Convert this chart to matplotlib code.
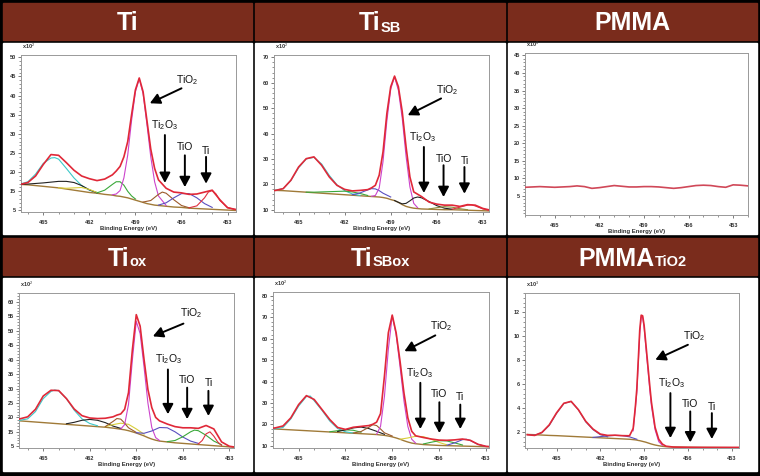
import matplotlib
matplotlib.use("Agg")
import matplotlib.pyplot as plt
from matplotlib.patches import Rectangle
from matplotlib.ticker import MultipleLocator, AutoMinorLocator

plt.rcParams["font.family"] = ["Liberation Sans", "DejaVu Sans"]
plt.rcParams["mathtext.fontset"] = "custom"
plt.rcParams["mathtext.rm"] = "Liberation Sans"
plt.rcParams["mathtext.it"] = "Liberation Sans:italic"
plt.rcParams["mathtext.bf"] = "Liberation Sans:bold"

W, H = 760, 476

# ---------------- data (counts) ----------------
# binding energy grid shared by the Ti panels (eV)
be = [467, 466.5, 466, 465.5, 465, 464.5, 464, 463.5, 463, 462.5, 462, 461.5,
      461, 460.5, 460.25, 460, 459.75, 459.5, 459.25, 459, 458.75, 458.5,
      458.25, 458, 457.75, 457.5, 457, 456.5, 456, 455.5, 455, 454.5, 454,
      453.5, 453, 452.5]

# Ti
ti_env = [16.7, 16.8, 17.3, 19.0, 22.0, 24.6, 24.4, 22.5, 20.5, 19.0,
          18.3, 17.8, 18.2, 19.3, 20.3, 21.5, 24.0, 28.0, 35.0, 41.5,
          44.6, 41.0, 33.5, 26.0, 21.0, 18.0, 15.8, 14.8, 14.6, 14.2,
          14.3, 14.8, 15.3, 12.8, 10.7, 10.3]
ti_bg = [16.8, 16.8, 16.7, 16.5, 16.3, 16.1, 15.9, 15.6, 15.3, 15.0,
         14.7, 14.5, 14.2, 14.0, 13.8, 13.7, 13.5, 13.3, 13.0, 12.7,
         12.4, 12.1, 11.8, 11.6, 11.4, 11.3, 11.1, 10.9, 10.8, 10.6,
         10.5, 10.4, 10.3, 10.2, 10.1, 10.0]
ti_comps = [
    ([467, 466.5, 466, 465.5, 465, 464.5, 464.25, 464, 463.5, 463, 462.5, 462, 461.5],
     [16.8, 16.9, 17.5, 19.5, 22.3, 23.7, 23.8, 23.4, 21.0, 18.5, 16.5, 15.3, 14.7]),
    ([467, 466, 465, 464.5, 464, 463.5, 463, 462.5, 462, 461.5],
     [16.8, 16.9, 17.2, 17.4, 17.6, 17.6, 17.3, 16.5, 15.4, 14.6]),
    ([464, 463.5, 463, 462.5, 462, 461.5],
     [15.9, 15.8, 15.9, 16.0, 15.5, 14.7]),
    ([461.5, 461, 460.5, 460.25, 460, 459.75, 459.5, 459.25, 459],
     [14.6, 15.3, 16.8, 17.5, 17.5, 16.6, 15.0, 13.8, 13.0]),
    ([460.5, 460.25, 460, 459.75, 459.5, 459.25, 459, 458.75, 458.5, 458.25, 458, 457.75, 457.5, 457],
     [14.1, 14.3, 15.2, 18.5, 24.5, 33.5, 41.0, 44.4, 40.5, 32.5, 24.0, 17.5, 13.8, 11.3]),
    ([458.5, 458, 457.75, 457.5, 457.25, 457, 456.5, 456, 455.5],
     [12.2, 12.6, 13.4, 14.2, 14.8, 14.5, 12.8, 11.3, 10.7]),
    ([457.5, 457, 456.5, 456, 455.5, 455, 454.5, 454],
     [11.4, 12.0, 13.3, 14.4, 14.4, 13.3, 11.8, 10.8]),
    ([455.5, 455, 454.5, 454.25, 454, 453.75, 453.5, 453, 452.5],
     [10.7, 11.2, 13.3, 14.8, 15.2, 14.3, 12.6, 10.8, 10.2]),
]

# Ti_SB
tisb_env = [17.6, 17.6, 18.3, 21.6, 26.8, 30.1, 30.8, 27.5, 22.9, 19.6,
            18.0, 17.4, 17.6, 17.9, 18.6, 19.6, 23.6, 32.8, 47.9, 58.4,
            62.6, 58.4, 48.6, 34.7, 22.9, 17.0, 15.2, 13.0, 12.2, 11.8,
            11.8, 11.3, 12.0, 11.8, 10.5, 9.8]
tisb_bg = [17.6, 17.6, 17.5, 17.3, 17.1, 16.9, 16.7, 16.5, 16.3, 16.1,
           15.9, 15.7, 15.5, 15.3, 15.2, 15.1, 15.0, 14.8, 14.5, 14.0,
           13.6, 12.9, 12.0, 11.3, 10.9, 10.6, 10.3, 10.2, 10.1, 10.0,
           10.0, 9.9, 9.8, 9.7, 9.6, 9.5]
tisb_comps = [
    ([467, 466.5, 466, 465.5, 465, 464.5, 464, 463.5, 463, 462.5, 462, 461.5, 461],
     [17.6, 17.7, 18.3, 21.5, 26.5, 30.0, 30.6, 28.0, 23.5, 19.8, 17.5, 16.2, 15.6]),
    ([464.5, 464, 463, 462.5, 462, 461.5, 461, 460.5],
     [16.9, 16.9, 17.1, 17.2, 17.3, 17.0, 16.4, 15.6]),
    ([461.5, 461, 460.5, 460.25, 460, 459.75, 459.5, 459],
     [15.9, 16.6, 17.8, 18.3, 18.2, 17.5, 16.5, 15.0]),
    ([460.25, 460, 459.75, 459.5, 459.25, 459, 458.75, 458.5, 458.25, 458, 457.75, 457.5, 457.25],
     [15.3, 15.6, 18.5, 29.0, 45.0, 57.5, 62.3, 57.0, 46.0, 31.0, 19.0, 12.5, 10.8]),
    ([458.75, 458.5, 458.25, 458, 457.75, 457.5, 457.25, 457, 456.5, 456, 455.5, 455],
     [13.6, 12.9, 12.3, 12.5, 13.5, 14.6, 15.0, 14.7, 13.2, 11.6, 10.6, 10.2]),
    ([456.5, 456, 455.5, 455, 454.5, 454],
     [10.3, 10.8, 11.2, 11.0, 10.4, 10.0]),
    ([455, 454.5, 454, 453.75, 453.5, 453, 452.5],
     [10.2, 11.0, 11.8, 11.9, 11.5, 10.3, 9.7]),
]

# PMMA
pmma_be = [467, 466.5, 466, 465.5, 465, 464.5, 464, 463.5, 463, 462.5, 462,
           461.5, 461, 460.5, 460, 459.5, 459, 458.5, 458, 457.5, 457, 456.5,
           456, 455.5, 455, 454.5, 454, 453.5, 453, 452.5, 452]
pmma_env = [7.4, 7.5, 7.6, 7.5, 7.4, 7.5, 7.6, 7.8, 7.6, 7.1, 7.3,
            7.6, 7.9, 7.7, 7.5, 7.5, 7.6, 7.6, 7.5, 7.3, 7.1, 7.3,
            7.6, 7.9, 8.0, 7.9, 7.6, 7.4, 8.1, 8.0, 7.8]

# Ti_ox
tiox_env = [18.7, 19.5, 20.2, 22.8, 27.4, 29.4, 29.3, 26.5, 22.9, 20.6,
            19.8, 19.6, 19.7, 20.2, 20.8, 21.2, 22.8, 28.6, 43.5, 55.6,
            51.6, 40.1, 29.7, 23.4, 20.0, 18.8, 17.7, 16.8, 16.4, 16.4,
            16.2, 17.2, 16.0, 11.5, 10.0, 9.6]
tiox_bg = [18.9, 18.8, 18.6, 18.4, 18.2, 18.0, 17.8, 17.6, 17.4, 17.2,
           17.0, 16.8, 16.6, 16.3, 16.1, 15.9, 15.7, 15.4, 15.0, 14.6,
           14.1, 13.6, 13.0, 12.5, 12.1, 11.8, 11.5, 11.2, 11.0, 10.8,
           10.6, 10.4, 10.2, 10.0, 9.8, 9.6]
tiox_comps = [
    ([467, 466.5, 466, 465.5, 465, 464.5, 464.25, 464, 463.5, 463, 462.5, 462, 461.5],
     [18.9, 19.0, 19.5, 22.0, 26.5, 29.0, 29.5, 29.2, 26.5, 22.5, 19.5, 17.9, 17.1]),
    ([463.5, 463, 462.5, 462, 461.5, 461, 460.5, 460],
     [17.8, 18.3, 19.0, 19.3, 19.0, 18.2, 17.0, 16.2]),
    ([461, 460.5, 460, 459.5, 459, 458.5],
     [16.8, 17.5, 18.0, 17.6, 16.0, 14.2]),
    ([461, 460.5, 460.25, 460, 459.75, 459.5, 459],
     [16.8, 18.6, 19.6, 19.4, 18.0, 16.4, 14.8]),
    ([460, 459.75, 459.5, 459.25, 459, 458.75, 458.5, 458.25, 458, 457.75, 457.5],
     [16.0, 17.5, 24.5, 40.0, 53.3, 49.0, 37.5, 25.0, 16.5, 13.0, 12.0]),
    ([459, 458.5, 458, 457.5, 457, 456.5, 456, 455.5, 455],
     [14.7, 14.5, 15.3, 16.5, 16.4, 15.0, 13.2, 11.8, 11.0]),
    ([457, 456.5, 456, 455.5, 455.25, 455, 454.5, 454, 453.5],
     [11.6, 12.0, 13.3, 15.0, 15.6, 15.4, 13.8, 11.8, 10.5]),
    ([455, 454.75, 454.5, 454.25, 454, 453.75, 453.5],
     [10.8, 12.0, 14.3, 15.0, 13.5, 11.5, 10.3]),
]

# Ti_SBox
tisbox_env = [18.0, 18.3, 19.2, 23.0, 29.2, 33.4, 31.6, 26.9, 22.2, 18.5,
              17.6, 18.6, 19.0, 19.4, 20.0, 21.0, 25.0, 42.5, 62.8, 71.1,
              62.8, 49.5, 34.7, 23.0, 16.7, 14.6, 13.8, 13.1, 12.6, 12.5,
              12.7, 13.1, 12.5, 10.6, 9.7, 9.4]
tisbox_bg = [17.9, 17.8, 17.6, 17.4, 17.2, 17.0, 16.8, 16.6, 16.4, 16.2,
             16.0, 15.8, 15.6, 15.4, 15.3, 15.2, 15.0, 14.8, 14.5, 14.1,
             13.6, 13.0, 12.3, 11.7, 11.2, 10.9, 10.5, 10.3, 10.1, 10.0,
             9.9, 9.8, 9.7, 9.6, 9.5, 9.4]
tisbox_comps = [
    ([467, 466.5, 466, 465.5, 465, 464.5, 464.25, 464, 463.5, 463, 462.5, 462, 461.5],
     [17.9, 17.9, 18.5, 22.5, 28.5, 33.0, 33.2, 31.0, 26.5, 21.5, 18.0, 16.5, 15.9]),
    ([463, 462.5, 462, 461.5, 461],
     [16.5, 17.0, 17.4, 17.2, 16.3]),
    ([462.5, 462, 461.5, 461, 460.5, 460, 459.5],
     [16.6, 17.4, 18.3, 18.7, 18.0, 16.7, 15.3]),
    ([461.5, 461, 460.5, 460.25, 460, 459.75, 459.5, 459],
     [15.9, 16.6, 18.6, 19.8, 19.4, 17.8, 16.0, 14.5]),
    ([460, 459.75, 459.5, 459.25, 459, 458.75, 458.5, 458.25, 458, 457.75, 457.5],
     [15.4, 19.0, 33.0, 55.0, 70.8, 62.0, 47.0, 31.0, 19.0, 13.0, 11.2]),
    ([458.5, 458, 457.5, 457, 456.5, 456, 455.5],
     [13.0, 13.6, 14.4, 14.2, 13.0, 11.5, 10.4]),
    ([457, 456.5, 456, 455.5, 455, 454.5],
     [10.8, 11.6, 12.3, 12.2, 11.3, 10.3]),
    ([455.5, 455, 454.5, 454.25, 454, 453.5, 453],
     [10.2, 11.3, 12.8, 13.0, 12.4, 10.6, 9.6]),
]

# PMMA_TiO2 (finer grid around the narrow TiO2 peak)
pmt_be = [467, 466.5, 466, 465.5, 465, 464.5, 464, 463.5, 463, 462.5,
          462, 461.5, 461, 460.5, 460, 459.75, 459.6, 459.5, 459.4, 459.3,
          459.2, 459.1, 459.0, 458.9, 458.8, 458.7, 458.6, 458.5, 458.25, 458,
          457.75, 457.5, 457, 456, 455, 454, 453, 452.5]
pmt_env = [1.78, 1.72, 1.97, 2.6, 3.6, 4.4, 4.56, 3.86, 2.9, 2.25,
           1.83, 1.72, 1.74, 1.70, 1.69, 2.3, 4.1, 5.6, 8.0, 10.5,
           11.75, 11.7, 10.9, 9.6, 8.3, 7.0, 5.7, 4.5, 2.4, 1.4,
           1.0, 0.82, 0.75, 0.73, 0.72, 0.72, 0.72, 0.72]
pmt_bg = [1.8, 1.78, 1.75, 1.72, 1.7, 1.67, 1.64, 1.61, 1.58, 1.55,
          1.52, 1.49, 1.46, 1.43, 1.4, 1.37, 1.35, 1.33, 1.3, 1.28,
          1.25, 1.22, 1.19, 1.16, 1.12, 1.08, 1.04, 1.0, 0.92, 0.86,
          0.81, 0.78, 0.75, 0.73, 0.72, 0.71, 0.7, 0.7]
pmt_comps = [
    ([467, 466.5, 466, 465.5, 465, 464.5, 464, 463.5, 463, 462.5, 462, 461.5],
     [1.78, 1.74, 1.95, 2.55, 3.55, 4.38, 4.55, 3.85, 2.85, 2.2, 1.78, 1.6]),
    ([462.5, 462, 461.5, 461, 460.5, 460, 459.5],
     [1.55, 1.62, 1.68, 1.72, 1.70, 1.6, 1.4]),
    ([459.75, 459.5, 459.3, 459.2, 459.1, 459.0, 458.8, 458.6, 458.5, 458.25, 458, 457.75],
     [2.1, 5.3, 10.2, 11.6, 11.55, 10.7, 8.0, 5.4, 4.2, 2.2, 1.2, 0.9]),
]

# ---------------- styles ----------------
BROWN = "#7a2c1c"
ENV = "#e02838"
BGC = "#a07a38"
CYAN, BLACK, YELLOW, GREEN = "#3cc8c8", "#222222", "#d9cf3a", "#3aa83a"
MAGENTA, DBROWN, BLUE, RED = "#cc44cc", "#9c5a2c", "#5a4fc0", "#e03040"
OLIVE, SLATE = "#8c8c3a", "#6a6aa8"

fig = plt.figure(figsize=(W / 100, H / 100), dpi=100, facecolor="black")
renderer = fig.canvas.get_renderer()


def px_rect(x0, y0, x1, y1):
    return [x0 / W, 1 - y1 / H, (x1 - x0) / W, (y1 - y0) / H]


def box(x0, y0, x1, y1, color):
    fig.add_artist(Rectangle((x0 / W, 1 - y1 / H), (x1 - x0) / W, (y1 - y0) / H,
                             transform=fig.transFigure, color=color, zorder=0))


def header_title(cx, base, main, sub):
    t1 = fig.text(0, 1 - base / H, main, color="white", fontsize=18,
                  fontweight="bold", va="baseline", ha="left")
    w1 = t1.get_window_extent(renderer).width
    w2 = 0
    t2 = None
    if sub:
        t2 = fig.text(0, 1 - (base + 1) / H, sub, color="white", fontsize=10.5,
                      fontweight="bold", va="baseline", ha="left")
        w2 = t2.get_window_extent(renderer).width
    x0 = cx - (w1 + w2) / 2
    t1.set_x(x0 / W)
    if t2 is not None:
        t2.set_x((x0 + w1) / W)


def draw_panel(rect, xs, env, bg, comps, colors, xlim, ylim, yticks, ylabels,
               scale, notes, env_color=ENV):
    ax = fig.add_axes(px_rect(*rect))
    ax.set_facecolor("white")
    if bg is not None:
        ax.plot(xs, bg, color=BGC, lw=1.0, zorder=2)
    for (cx, cy), c in zip(comps, colors):
        ax.plot(cx, cy, color=c, lw=0.8, zorder=3)
    ax.plot(xs, env, color=env_color, lw=1.2, zorder=4)
    ax.set_xlim(*xlim)
    ax.set_ylim(*ylim)
    ax.xaxis.set_major_locator(MultipleLocator(3))
    ax.xaxis.set_minor_locator(MultipleLocator(1))
    ax.set_yticks(yticks)
    ax.set_yticklabels(ylabels)
    ax.yaxis.set_minor_locator(AutoMinorLocator(5))
    ax.tick_params(which="major", direction="out", length=2.5, width=0.6,
                   color="#666666", labelsize=4, labelcolor="#333333")
    ax.tick_params(which="minor", direction="out", length=1.2, width=0.5,
                   color="#666666")
    ax.tick_params(axis="x", pad=3)
    ax.tick_params(axis="y", pad=1)
    for lab in ax.get_xticklabels() + ax.get_yticklabels():
        lab.set_fontweight("bold")
    for s in ax.spines.values():
        s.set_color("#999999")
        s.set_linewidth(0.7)
    ax.set_xlabel("Binding Energy (eV)", fontsize=4.3, fontweight="bold",
                  color="#333333", labelpad=1)
    ax.annotate(scale, xy=(0, 1), xycoords="axes fraction", xytext=(1, 3),
                textcoords="offset points", fontsize=4, fontweight="bold",
                color="#333333", va="bottom", ha="left")
    for label, txy, a0, a1 in notes:
        ax.text(txy[0], txy[1], label, fontsize=7.5, ha="center", va="center",
                color="#111111", zorder=6)
        ax.annotate("", xy=a1, xytext=a0,
                    arrowprops=dict(arrowstyle="-|>,head_length=0.6,head_width=0.32",
                                    color="black", lw=1.4, shrinkA=0, shrinkB=0),
                    zorder=6)
    return ax


# panel frames
cols = [(3, 252), (255, 505), (508, 757)]
rows = [((3, 40), (43, 234)), ((238, 275), (278, 471))]
for head, body in rows:
    for x0, x1 in cols:
        box(x0, head[0], x1, head[1], BROWN)
        box(x0, body[0], x1, body[1], "white")

titles = [("Ti", ""), ("Ti", "SB"), ("PMMA", ""),
          ("Ti", "ox"), ("Ti", "SBox"), ("PMMA", "TiO2")]
for i, (main, sub) in enumerate(titles):
    x0, x1 = cols[i % 3]
    head = rows[i // 3][0]
    header_title((x0 + x1) / 2, (head[0] + head[1]) / 2 + 9, main, sub)

LBL = ["TiO$_2$", "Ti$_2$O$_3$", "TiO", "Ti"]

draw_panel((21, 55, 236, 212), be, ti_env, ti_bg, ti_comps,
           [CYAN, BLACK, YELLOW, GREEN, MAGENTA, DBROWN, BLUE, RED],
           (466.45, 452.45), (9.6, 50.6),
           [10, 15, 20, 25, 30, 35, 40, 45, 50],
           ["5", "15", "20", "25", "30", "35", "40", "45", "50"], "x10$^2$",
           [(LBL[0], (455.6, 44.1), (456.0, 41.9), (458.06, 38.0)),
            (LBL[1], (457.1, 32.3), (457.08, 29.7), (457.08, 17.2)),
            (LBL[2], (455.8, 26.6), (455.78, 24.4), (455.78, 16.1)),
            (LBL[3], (454.4, 25.6), (454.4, 24.0), (454.4, 17.0))])

draw_panel((274, 55, 489, 212), be, tisb_env, tisb_bg, tisb_comps,
           [CYAN, GREEN, BLUE, MAGENTA, BLACK, OLIVE, RED],
           (466.6, 452.6), (9.1, 70.9),
           [10, 20, 30, 40, 50, 60, 70],
           ["10", "20", "30", "40", "50", "60", "70"], "x10$^2$",
           [(LBL[0], (455.3, 57.1), (455.72, 53.8), (457.89, 47.2)),
            (LBL[1], (456.9, 38.7), (456.84, 34.7), (456.84, 16.6)),
            (LBL[2], (455.55, 30.1), (455.56, 27.5), (455.56, 15.0)),
            (LBL[3], (454.15, 29.1), (454.2, 26.8), (454.2, 16.3))])

draw_panel((525, 53, 748, 215), pmma_be, pmma_env, None, [], [],
           (467.0, 452.0), (-0.5, 45.7),
           [5, 10, 15, 20, 25, 30, 35, 40, 45],
           ["5", "10", "15", "20", "25", "30", "35", "40", "45"], "x10$^3$",
           [], env_color="#d04858")

draw_panel((19, 293, 234, 448), be, tiox_env, tiox_bg, tiox_comps,
           [CYAN, BLACK, YELLOW, DBROWN, MAGENTA, BLUE, GREEN, RED],
           (466.56, 452.7), (9.4, 63.1),
           [10, 15, 20, 25, 30, 35, 40, 45, 50, 55, 60],
           ["5", "15", "20", "25", "30", "35", "40", "45", "50", "55", "60"],
           "x10$^2$",
           [(LBL[0], (455.45, 56.2), (455.96, 52.5), (457.93, 48.1)),
            (LBL[1], (456.95, 40.1), (456.96, 36.6), (456.96, 21.1)),
            (LBL[2], (455.7, 33.0), (455.72, 30.3), (455.72, 19.4)),
            (LBL[3], (454.3, 32.0), (454.35, 29.2), (454.35, 20.5))])

draw_panel((273, 292, 489, 448), be, tisbox_env, tisbox_bg, tisbox_comps,
           [CYAN, GREEN, BLACK, DBROWN, MAGENTA, YELLOW, GREEN, BLUE],
           (466.64, 452.8), (8.9, 81.9),
           [10, 20, 30, 40, 50, 60, 70, 80],
           ["10", "20", "30", "40", "50", "60", "70", "80"], "x10$^2$",
           [(LBL[0], (455.87, 65.9), (456.24, 61.6), (458.22, 54.2)),
            (LBL[1], (457.26, 44.1), (457.2, 39.4), (457.2, 17.8)),
            (LBL[2], (455.98, 34.2), (455.98, 30.3), (455.98, 15.9)),
            (LBL[3], (454.66, 32.7), (454.64, 29.2), (454.64, 17.8))])

draw_panel((525, 293, 739, 448), pmt_be, pmt_env, pmt_bg, pmt_comps,
           [SLATE, BLUE, MAGENTA],
           (467.16, 452.5), (0.67, 13.6),
           [2, 4, 6, 8, 10, 12],
           ["2", "4", "6", "8", "10", "12"], "x10$^3$",
           [(LBL[0], (455.6, 9.97), (456.0, 9.28), (458.23, 8.03)),
            (LBL[1], (457.15, 6.08), (457.2, 5.25), (457.2, 1.5)),
            (LBL[2], (455.84, 4.33), (455.84, 3.72), (455.84, 1.14)),
            (LBL[3], (454.32, 4.08), (454.36, 3.58), (454.36, 1.42))])

fig.savefig("out.png", dpi=100, facecolor="black")
